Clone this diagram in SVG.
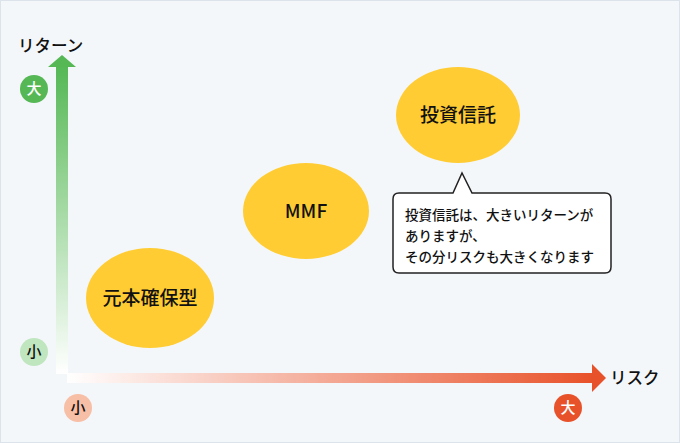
<svg xmlns="http://www.w3.org/2000/svg" width="680" height="443" viewBox="0 0 680 443">
<defs>
<linearGradient id="gy" x1="0" y1="1" x2="0" y2="0"><stop offset="0" stop-color="#ffffff"/><stop offset="1" stop-color="#55b855"/></linearGradient>
<linearGradient id="gx" x1="0" y1="0" x2="1" y2="0"><stop offset="0" stop-color="#ffffff"/><stop offset="1" stop-color="#e8522a"/></linearGradient>
<style>
text{font-family:"Noto Sans CJK JP","Noto Sans",sans-serif;fill:#111;font-weight:500}
.e{fill:#ffcc33}
.big{font-size:19px;text-anchor:middle}
.c{font-size:15px;text-anchor:middle}
.s{font-size:13.5px}
</style>
</defs>
<rect x="0.5" y="0.5" width="679" height="442" fill="#f4f7fa" stroke="#dce3ea"/>
<g id="axes">
<rect x="56" y="66" width="12" height="308" fill="url(#gy)"/>
<polygon points="48,67 62,55 76,67" fill="#55b855"/>
<rect x="67" y="373" width="526" height="10" fill="url(#gx)"/>
<polygon points="592,364 606,378 592,392" fill="#e8522a"/>
</g>
<text x="18" y="52" font-size="16.5">リターン</text>
<text x="610" y="384" font-size="16.5">リスク</text>
<g id="ybig"><circle cx="34" cy="89" r="14" fill="#55b855"/><text x="34" y="94" class="c" style="fill:#fff">大</text></g>
<g id="ysmall"><circle cx="34" cy="352" r="14" fill="#bfe6bf"/><text x="34" y="357" class="c">小</text></g>
<g id="xsmall"><circle cx="78" cy="408" r="14" fill="#f7bfa6"/><text x="78" y="413" class="c">小</text></g>
<g id="xbig"><circle cx="568" cy="408" r="14" fill="#e8522a"/><text x="568" y="413" class="c" style="fill:#fff">大</text></g>
<g id="n1"><ellipse cx="150" cy="298" rx="64" ry="50" class="e"/><text x="150" y="305" class="big">元本確保型</text></g>
<g id="n2"><ellipse cx="306" cy="211" rx="63" ry="48" class="e"/><text x="306" y="218" class="big">MMF</text></g>
<g id="n3"><ellipse cx="458" cy="115" rx="62" ry="48" class="e"/><text x="458" y="122" class="big">投資信託</text></g>
<g id="callout">
<path d="M399,193 H453 L462,173 L472,193 H605 Q611,193 611,199 V267 Q611,273 605,273 H399 Q393,273 393,267 V199 Q393,193 399,193 Z" fill="#fff" stroke="#222" stroke-width="1.5"/>
<text x="405" y="220" class="s">投資信託は、大きいリターンが</text>
<text x="405" y="241" class="s">ありますが、</text>
<text x="405" y="262" class="s">その分リスクも大きくなります</text>
</g>
</svg>
